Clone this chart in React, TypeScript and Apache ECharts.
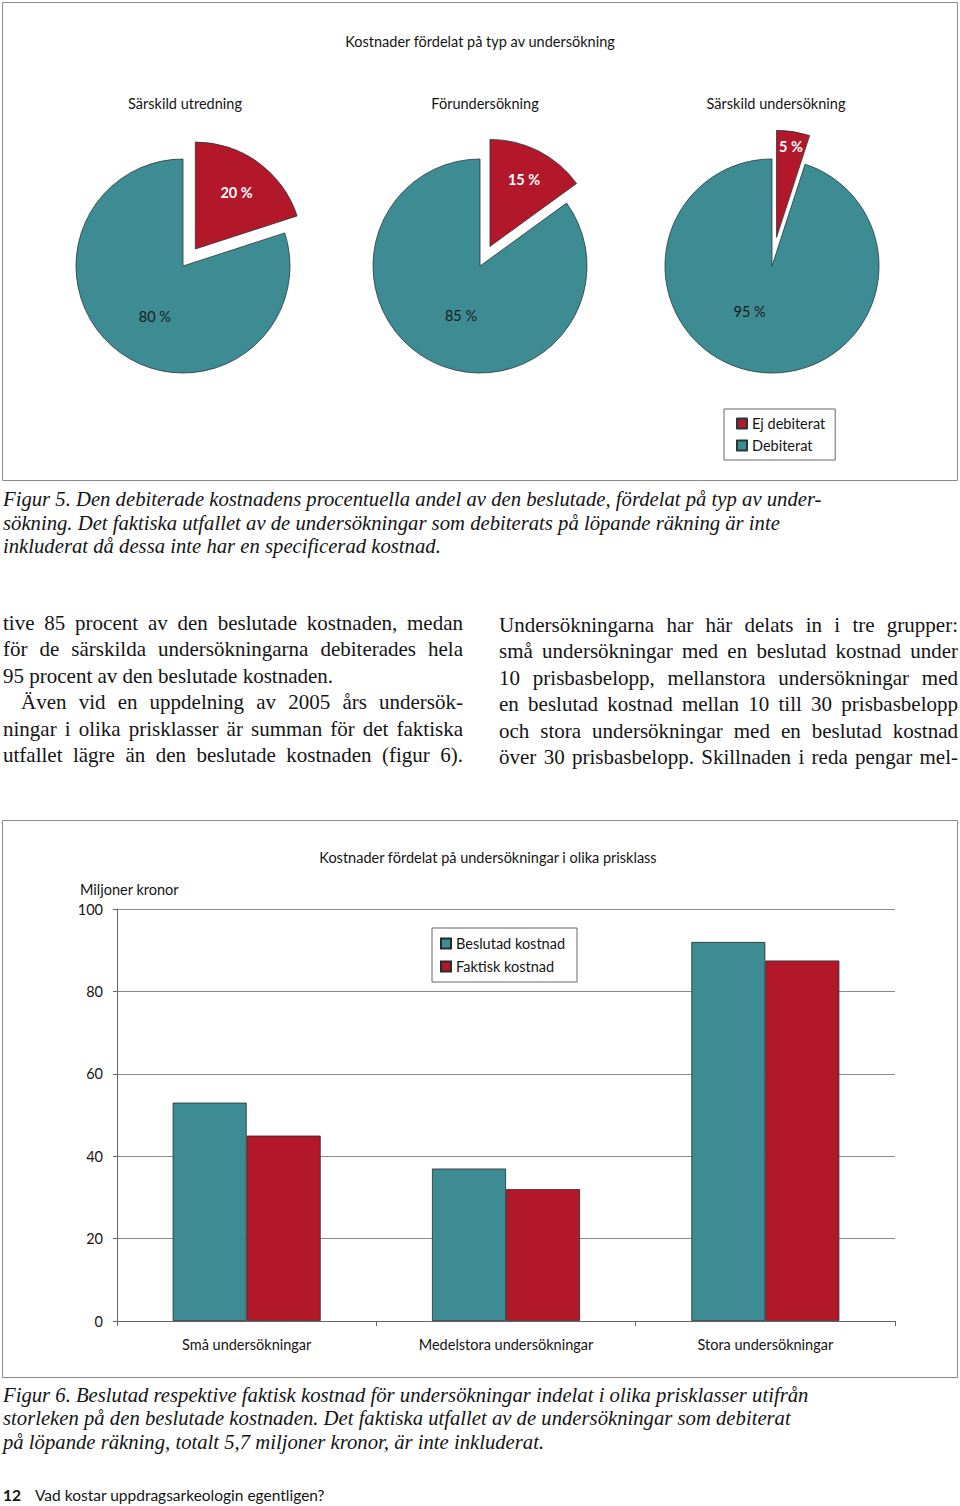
import React, { useEffect, useRef } from 'react';
import * as echarts from 'echarts';

// ---------- data ----------
const chart1Title = 'Kostnader fördelat på typ av undersökning';
const pieTitles = ['Särskild utredning', 'Förundersökning', 'Särskild undersökning'];
const pieNames = ['Ej debiterat', 'Debiterat'];
const ejDebiterat = [20, 15, 5];
const debiterat = [80, 85, 95];

const chart2Title = 'Kostnader fördelat på undersökningar i olika prisklass';
const yAxisName = 'Miljoner kronor';
const barCategories = ['Små undersökningar', 'Medelstora undersökningar', 'Stora undersökningar'];
const barNames = ['Beslutad kostnad', 'Faktisk kostnad'];
const beslutadKostnad = [53, 37, 92];
const faktiskKostnad = [45, 32, 87.5];
const yTicks = [0, 20, 40, 60, 80, 100];

const caption5 = [
  'Figur 5. Den debiterade kostnadens procentuella andel av den beslutade, fördelat på typ av under-',
  'sökning. Det faktiska utfallet av de undersökningar som debiterats på löpande räkning är inte',
  'inkluderat då dessa inte har en specificerad kostnad.',
];
const leftColumn = [
  'tive 85 procent av den beslutade kostnaden, medan',
  'för de särskilda undersökningarna debiterades hela',
  '95 procent av den beslutade kostnaden.',
  'Även vid en uppdelning av 2005 års undersök-',
  'ningar i olika prisklasser är summan för det faktiska',
  'utfallet lägre än den beslutade kostnaden (figur 6).',
];
const leftJustify = [true, true, false, true, true, true];
const rightColumn = [
  'Undersökningarna har här delats in i tre grupper:',
  'små undersökningar med en beslutad kostnad under',
  '10 prisbasbelopp, mellanstora undersökningar med',
  'en beslutad kostnad mellan 10 till 30 prisbasbelopp',
  'och stora undersökningar med en beslutad kostnad',
  'över 30 prisbasbelopp. Skillnaden i reda pengar mel-',
];
const caption6 = [
  'Figur 6. Beslutad respektive faktisk kostnad för undersökningar indelat i olika prisklasser utifrån',
  'storleken på den beslutade kostnaden. Det faktiska utfallet av de undersökningar som debiterat',
  'på löpande räkning, totalt 5,7 miljoner kronor, är inte inkluderat.',
];
const footerNumber = '12';
const footerText = 'Vad kostar uppdragsarkeologin egentligen?';

// ---------- styles ----------
const TEAL = '#3d8c94';
const RED = '#b3172a';
const SANS = 'Lato';
const SANS_SIZE = 14.5;
const SERIF = 'Liberation Serif';
const BODY_SIZE = 21;
const CAPTION_SIZE = 20.7;
const TXT = '#141414';

let measureCtx: CanvasRenderingContext2D | null = null;
function measure(text: string, font: string) {
  if (!measureCtx) measureCtx = document.createElement('canvas').getContext('2d');
  measureCtx!.font = font;
  return measureCtx!.measureText(text).width;
}

function textLine(
  text: string,
  x: number,
  y: number,
  width: number,
  justify: boolean,
  size: number,
  italic: boolean
) {
  const style = {
    fontFamily: SERIF,
    fontSize: size,
    fontStyle: italic ? 'italic' : 'normal',
    fill: TXT,
    align: 'left',
    verticalAlign: 'middle',
  };
  if (!justify) return [{ type: 'text', x, y, silent: true, style: { ...style, text } }];
  const font = `${italic ? 'italic ' : ''}${size}px "${SERIF}"`;
  const words = text.split(' ');
  const ws = words.map((w) => measure(w, font));
  const total = ws.reduce((a, b) => a + b, 0);
  const gap = Math.max(size * 0.18, (width - total) / (words.length - 1));
  let cx = x;
  return words.map((w, i) => {
    const el = { type: 'text', x: cx, y, silent: true, style: { ...style, text: w } };
    cx += ws[i] + gap;
    return el;
  });
}

export default function App() {
  const ref = useRef<HTMLDivElement>(null);
  useEffect(() => {
    document.body.style.margin = '0';
    const chart = echarts.init(ref.current!, null, { renderer: 'svg' });

    const pieCenters = [[183, 266], [480, 266], [772, 266]];
    const pieRadius = 107;
    const pieOffsets = [21, 22, 29];
    const redLabelDist = [67, 72, 89];
    const tealLabelDist = [55, 50, 48];
    const tealLabelStart = [97, 96, 73];
    const pieTitleX = [185, 485, 776];

    const pieBase = (i: number) => ({
      type: 'pie',
      center: pieCenters[i],
      startAngle: 90,
      clockwise: true,
      selectedMode: 'single',
      selectedOffset: pieOffsets[i],
      silent: true,
      emphasis: { disabled: true },
      labelLine: { show: false },
      avoidLabelOverlap: false,
    });
    const labelFont = { fontFamily: SANS, fontSize: SANS_SIZE, position: 'inside', formatter: '{c} %' };

    const pieSeries = pieTitles.map((t, i) => ({
      ...pieBase(i),
      name: t,
      radius: pieRadius,
      label: { show: false },
      itemStyle: { borderColor: '#25393b', borderWidth: 0.8 },
      data: [
        { name: pieNames[0], value: ejDebiterat[i], selected: true, itemStyle: { color: RED } },
        { name: pieNames[1], value: debiterat[i], itemStyle: { color: TEAL } },
      ],
    }));

    // transparent rings that only carry the value labels
    const redLabelSeries = pieTitles.map((t, i) => ({
      ...pieBase(i),
      name: t + ' etikett 1',
      radius: [redLabelDist[i] - 8, redLabelDist[i] + 8],
      z: 5,
      label: { show: true, ...labelFont, fontWeight: 'bold', color: '#ffffff' },
      itemStyle: { color: 'rgba(0,0,0,0)', borderWidth: 0 },
      data: [
        { name: pieNames[0], value: ejDebiterat[i], selected: true },
        { name: pieNames[1], value: debiterat[i], label: { show: false } },
      ],
    }));
    const tealLabelSeries = pieTitles.map((t, i) => ({
      ...pieBase(i),
      name: t + ' etikett 2',
      startAngle: tealLabelStart[i],
      selectedMode: false,
      radius: [tealLabelDist[i] - 8, tealLabelDist[i] + 8],
      z: 5,
      label: { show: true, ...labelFont, color: '#1a1a1a' },
      itemStyle: { color: 'rgba(0,0,0,0)', borderWidth: 0 },
      data: [
        { name: pieNames[0], value: ejDebiterat[i], label: { show: false } },
        { name: pieNames[1], value: debiterat[i] },
      ],
    }));

    const barStyle = (c: string) => ({ color: c, borderColor: '#2a2a2a', borderWidth: 0.8 });
    const sansText = (text: string, x: number, y: number, align: string, extra: any = {}) => ({
      type: 'text',
      x,
      y,
      silent: true,
      style: { text, fontFamily: SANS, fontSize: SANS_SIZE, fill: TXT, align, verticalAlign: 'middle', ...extra },
    });

    const graphics: any[] = [
      { type: 'rect', shape: { x: 2.5, y: 2.5, width: 955, height: 478 }, style: { fill: 'none', stroke: '#8a8a8a', lineWidth: 1 }, silent: true },
      { type: 'rect', shape: { x: 2.5, y: 820.5, width: 955, height: 557 }, style: { fill: 'none', stroke: '#8a8a8a', lineWidth: 1 }, silent: true },
      sansText(chart1Title, 480, 41, 'center'),
      ...pieTitles.map((t, i) => sansText(t, pieTitleX[i], 103, 'center')),
      sansText(chart2Title, 488, 857, 'center'),
      sansText(yAxisName, 80, 889, 'left'),
      sansText(footerNumber, 3, 1495, 'left', { fontSize: 15.5, fontWeight: 'bold' }),
      sansText(footerText, 35, 1495, 'left', { fontSize: 15.5 }),
    ];
    caption5.forEach((l, i) => graphics.push(...textLine(l, 3, 499 + i * 23.5, 0, false, CAPTION_SIZE, true)));
    caption6.forEach((l, i) => graphics.push(...textLine(l, 3, 1395 + i * 23.3, 0, false, CAPTION_SIZE, true)));
    leftColumn.forEach((l, i) => {
      const x = i === 3 ? 21 : 3;
      graphics.push(...textLine(l, x, 623 + i * 26.4, 463 - x, leftJustify[i], BODY_SIZE, false));
    });
    rightColumn.forEach((l, i) => graphics.push(...textLine(l, 499, 625 + i * 26.4, 958 - 499, true, BODY_SIZE, false)));

    const option: any = {
      animation: false,
      backgroundColor: '#ffffff',
      legend: [
        {
          data: pieNames,
          left: 724,
          top: 409,
          orient: 'vertical',
          itemWidth: 10,
          itemHeight: 10,
          itemGap: 7,
          padding: [7, 10, 7, 12],
          borderColor: '#666',
          borderWidth: 1,
          selectedMode: false,
          icon: 'rect',
          textStyle: { fontFamily: SANS, fontSize: SANS_SIZE, color: TXT },
        },
        {
          data: barNames,
          left: 432,
          top: 928,
          orient: 'vertical',
          itemWidth: 10,
          itemHeight: 10,
          itemGap: 8,
          padding: [8, 12, 8, 8],
          borderColor: '#666',
          borderWidth: 1,
          selectedMode: false,
          icon: 'rect',
          textStyle: { fontFamily: SANS, fontSize: SANS_SIZE, color: TXT },
        },
      ],
      grid: { left: 117, top: 909, width: 778, height: 412, containLabel: false },
      xAxis: {
        type: 'category',
        data: barCategories,
        axisLine: { show: true, lineStyle: { color: '#666', width: 1 } },
        axisTick: { show: true, alignWithLabel: false, length: 5, lineStyle: { color: '#666' } },
        axisLabel: { fontFamily: SANS, fontSize: SANS_SIZE, color: TXT, margin: 16 },
        splitLine: { show: false },
      },
      yAxis: {
        type: 'value',
        min: yTicks[0],
        max: yTicks[yTicks.length - 1],
        interval: yTicks[1] - yTicks[0],
        axisLine: { show: true, lineStyle: { color: '#666', width: 1 } },
        axisTick: { show: true, length: 4, lineStyle: { color: '#666' } },
        axisLabel: { fontFamily: SANS, fontSize: SANS_SIZE, color: TXT, margin: 14 },
        splitLine: { show: true, lineStyle: { color: '#8a8a8a', width: 1 } },
      },
      graphic: graphics,
      series: [
        ...pieSeries,
        ...redLabelSeries,
        ...tealLabelSeries,
        { type: 'bar', name: barNames[0], data: beslutadKostnad, barWidth: 74, barGap: '0%', silent: true, itemStyle: barStyle(TEAL) },
        { type: 'bar', name: barNames[1], data: faktiskKostnad, barWidth: 74, barGap: '0%', silent: true, itemStyle: barStyle(RED) },
      ],
    };
    chart.setOption(option);
    return () => chart.dispose();
  }, []);
  return <div ref={ref} style={{ width: 960, height: 1506, position: 'absolute', left: 0, top: 0 }} />;
}
